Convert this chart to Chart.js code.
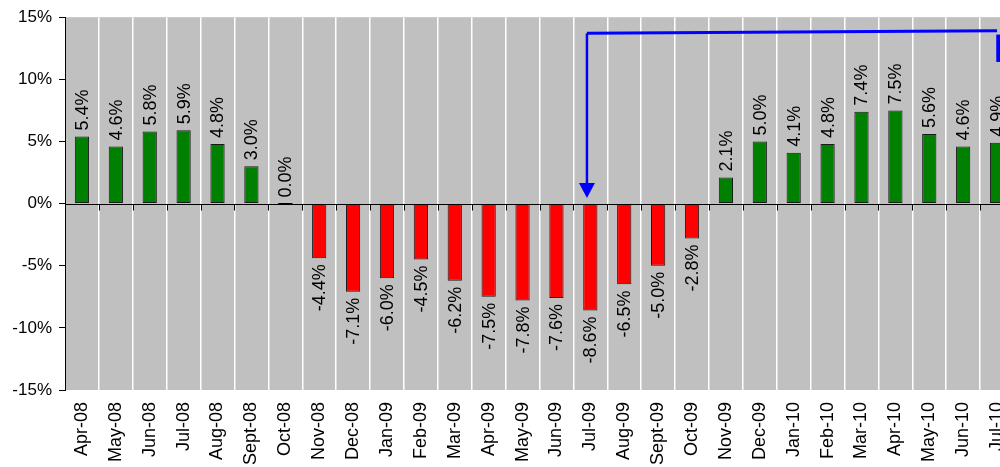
<!DOCTYPE html>
<html>
<head>
<meta charset="utf-8">
<script src="https://cdn.jsdelivr.net/npm/chart.js@4.4.1/dist/chart.umd.min.js"></script>
<style>
  html, body { margin: 0; padding: 0; background: #ffffff; }
  #frame { width: 1000px; height: 467px; overflow: hidden; position: relative; }
  #chart { display: block; position: absolute; left: 0; top: 0; }
</style>
</head>
<body>
<div id="frame"><canvas id="chart" width="1014" height="467"></canvas></div>
<script>
// Monthly year-over-year change, Apr-08 .. Jul-10
const months = [
  'Apr-08', 'May-08', 'Jun-08', 'Jul-08', 'Aug-08', 'Sept-08', 'Oct-08',
  'Nov-08', 'Dec-08', 'Jan-09', 'Feb-09', 'Mar-09', 'Apr-09', 'May-09',
  'Jun-09', 'Jul-09', 'Aug-09', 'Sept-09', 'Oct-09', 'Nov-09', 'Dec-09',
  'Jan-10', 'Feb-10', 'Mar-10', 'Apr-10', 'May-10', 'Jun-10', 'Jul-10'
];
const changePct = [
  5.4, 4.6, 5.8, 5.9, 4.8, 3.0, 0.0,
  -4.4, -7.1, -6.0, -4.5, -6.2, -7.5, -7.8,
  -7.6, -8.6, -6.5, -5.0, -2.8, 2.1, 5.0,
  4.1, 4.8, 7.4, 7.5, 5.6, 4.6, 4.9
];
const yTickValues = [-15, -10, -5, 0, 5, 10, 15];

// Callout arrow, in data units (category index, percent)
const calloutFrom = [14.9, 13.7];   // corner of the leader line
const calloutTip  = [14.9, 0.45];   // arrow tip above the Jul-09 bar
const calloutEnd  = [27.0, 13.9];   // far end of the leader line
const calloutStub = [[27.05, 13.6], [27.05, 11.4]];

const FONT = '"Liberation Sans", Arial, sans-serif';
const POS_COLOR = '#008000';
const NEG_COLOR = '#ff0000';

const plotDecor = {
  id: 'plotDecor',
  beforeDraw(chart) {
    const { ctx, chartArea: a } = chart;
    ctx.save();
    ctx.fillStyle = '#c0c0c0';
    ctx.fillRect(a.left, a.top, a.right - a.left, a.bottom - a.top);
    ctx.restore();
  },
  afterDatasetsDraw(chart) {
    const { ctx, chartArea: a, scales } = chart;
    const x = scales.x, y = scales.y;
    const y0 = Math.round(y.getPixelForValue(0)) + 0.5;
    const meta = chart.getDatasetMeta(0);
    ctx.save();
    // category axis crossing at zero, with tick marks between months
    ctx.strokeStyle = '#000';
    ctx.lineWidth = 1;
    ctx.beginPath();
    ctx.moveTo(a.left, y0);
    ctx.lineTo(a.right, y0);
    for (let i = 0; i <= months.length; i++) {
      const px = Math.round(x.getPixelForValue(i - 0.5)) + 0.5;
      ctx.moveTo(px, y0);
      ctx.lineTo(px, y0 + 6);
    }
    ctx.stroke();
    // zero-height bars still show their outline as a short thick dash
    ctx.lineWidth = 2;
    meta.data.forEach((bar, i) => {
      if (changePct[i] === 0) {
        const half = bar.width / 2;
        ctx.beginPath();
        ctx.moveTo(bar.x - half, y0 - 0.5);
        ctx.lineTo(bar.x + half, y0 - 0.5);
        ctx.stroke();
      }
    });

    // value labels along each bar
    ctx.fillStyle = '#000';
    ctx.font = '18px ' + FONT;
    ctx.textBaseline = 'middle';
    meta.data.forEach((bar, i) => {
      const v = changePct[i];
      const txt = v.toFixed(1) + '%';
      ctx.save();
      if (v >= 0) {
        ctx.translate(bar.x + 1, Math.min(bar.y, bar.base) - 6);
        ctx.rotate(-Math.PI / 2);
        ctx.textAlign = 'left';
      } else {
        ctx.translate(bar.x + 1, Math.max(bar.y, bar.base) + 6);
        ctx.rotate(-Math.PI / 2);
        ctx.textAlign = 'right';
      }
      ctx.fillText(txt, 0, 0);
      ctx.restore();
    });
    ctx.restore();
  },
  afterDraw(chart) {
    const { ctx, scales } = chart;
    const px = p => [scales.x.getPixelForValue(p[0]), scales.y.getPixelForValue(p[1])];
    const [fx, fy] = px(calloutFrom);
    const [tx, ty] = px(calloutTip);
    const [ex, ey] = px(calloutEnd);
    ctx.save();
    ctx.strokeStyle = '#0000ff';
    ctx.fillStyle = '#0000ff';
    ctx.lineWidth = 3;
    ctx.beginPath();
    ctx.moveTo(fx, fy);
    ctx.lineTo(ex, ey);
    ctx.stroke();
    ctx.lineWidth = 2.5;
    ctx.beginPath();
    ctx.moveTo(fx, fy);
    ctx.lineTo(tx, ty - 14);
    ctx.stroke();
    ctx.beginPath();
    ctx.moveTo(tx, ty);
    ctx.lineTo(tx - 8, ty - 15);
    ctx.lineTo(tx + 8, ty - 15);
    ctx.closePath();
    ctx.fill();
    const [s1x, s1y] = px(calloutStub[0]);
    const [s2x, s2y] = px(calloutStub[1]);
    ctx.lineWidth = 5;
    ctx.beginPath();
    ctx.moveTo(s1x, s1y);
    ctx.lineTo(s2x, s2y);
    ctx.stroke();
    ctx.restore();
  }
};

new Chart(document.getElementById('chart'), {
  type: 'bar',
  data: {
    labels: months,
    datasets: [{
      data: changePct,
      backgroundColor: changePct.map(v => v < 0 ? NEG_COLOR : POS_COLOR),
      borderColor: '#1a1a1a',
      borderWidth: 1,
      borderSkipped: false,
      barPercentage: 0.42,
      categoryPercentage: 1.0
    }]
  },
  options: {
    responsive: false,
    animation: false,
    events: [],
    devicePixelRatio: 1,
    layout: { padding: { top: 16, left: 0, right: 0, bottom: 0 } },
    plugins: { legend: { display: false }, tooltip: { enabled: false } },
    scales: {
      x: {
        offset: true,
        grid: { color: '#ffffff', lineWidth: 1.5, drawTicks: false, offset: true },
        border: { display: false },
        ticks: {
          autoSkip: false, minRotation: 90, maxRotation: 90,
          color: '#000', padding: 12,
          font: { family: FONT, size: 18 }
        },
        afterFit(s) {
          s.height = 77;
          s.paddingLeft = 0;
          s.paddingRight = 0;
        }
      },
      y: {
        min: -15, max: 15,
        afterBuildTicks(s) { s.ticks = yTickValues.map(v => ({ value: v })); },
        grid: { drawOnChartArea: false, drawTicks: true, tickLength: 6, tickColor: '#000' },
        border: { display: true, color: '#000', width: 1 },
        ticks: {
          color: '#000', padding: 7,
          font: { family: FONT, size: 17 },
          callback: v => v + '%'
        },
        afterFit(s) { s.width = 65; }
      }
    }
  },
  plugins: [plotDecor]
});
</script>
</body>
</html>
